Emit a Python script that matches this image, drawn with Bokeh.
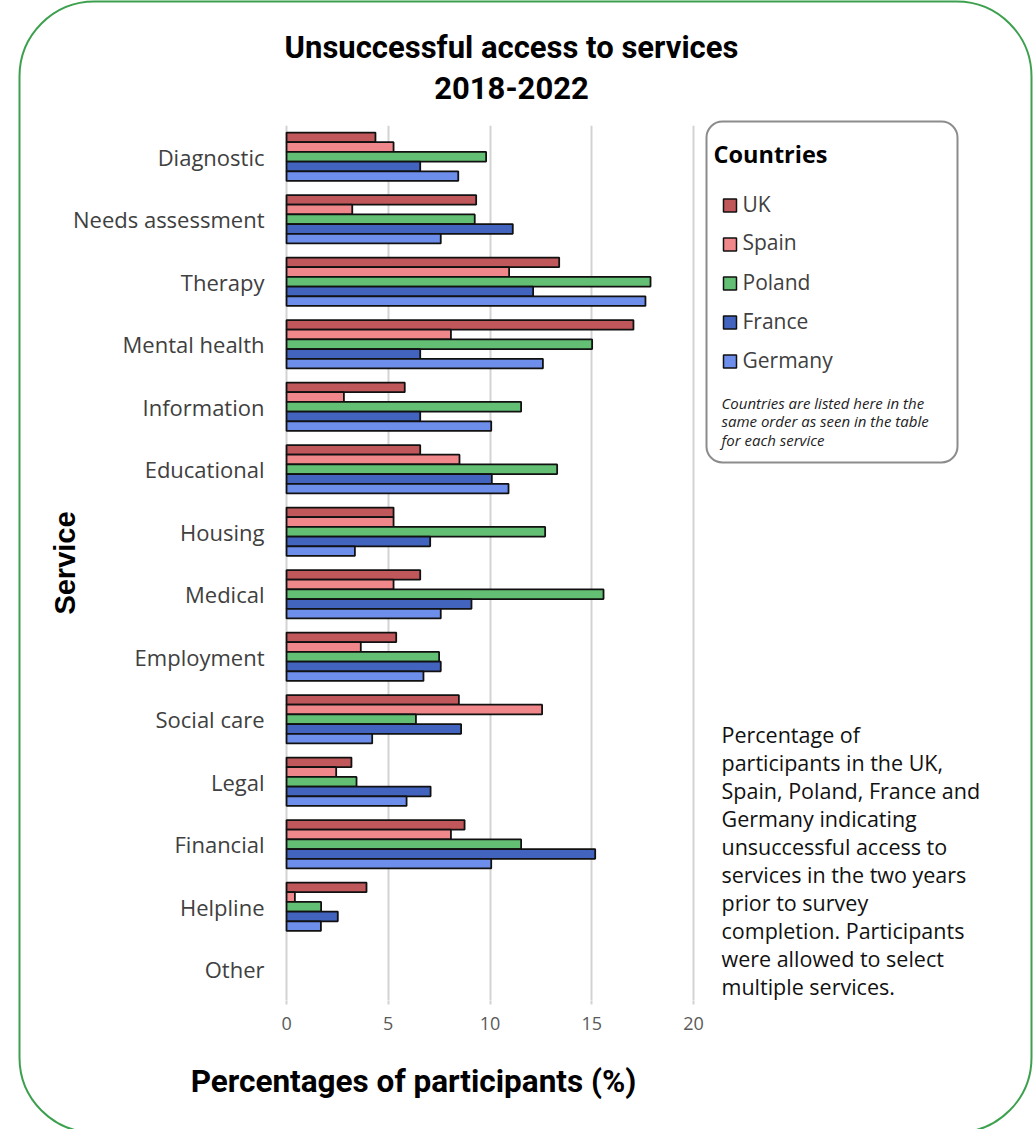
from bokeh.plotting import figure
from bokeh.models import FactorRange, Range1d, FixedTicker, ColumnDataSource
from bokeh.core.properties import value
from bokeh.transform import dodge
from bokeh.embed import file_html
from bokeh.resources import INLINE

services = ["Diagnostic", "Needs assessment", "Therapy", "Mental health", "Information",
            "Educational", "Housing", "Medical", "Employment", "Social care", "Legal",
            "Financial", "Helpline", "Other"]
countries = ["UK", "Spain", "Poland", "France", "Germany"]
uk      = [4.37, 9.32, 13.40, 17.05, 5.81, 6.57, 5.26, 6.57, 5.39, 8.47, 3.19, 8.75, 3.93, 0]
spain   = [5.26, 3.23, 10.94, 8.08, 2.82, 8.50, 5.26, 5.26, 3.65, 12.56, 2.44, 8.08, 0.41, 0]
poland  = [9.81, 9.25, 17.89, 15.02, 11.53, 13.30, 12.71, 15.58, 7.50, 6.36, 3.44, 11.53, 1.70, 0]
france  = [6.57, 11.12, 12.12, 6.57, 6.57, 10.09, 7.06, 9.09, 7.58, 8.58, 7.08, 15.17, 2.52, 0]
germany = [8.44, 7.58, 17.64, 12.60, 10.06, 10.91, 3.36, 7.58, 6.73, 4.21, 5.90, 10.06, 1.69, 0]
x_ticks = [0, 5, 10, 15, 20]

colors = ["#C0575B", "#F0878A", "#62BF73", "#4263BE", "#6E8EEC"]
offsets = [0.31, 0.155, 0.0, -0.155, -0.31]

series = dict(UK=uk, Spain=spain, Poland=poland, France=france, Germany=germany)
data = dict(service=services, **series)
for c, vals in series.items():
    data[c + "_la"] = [1.0 if v > 0 else 0.0 for v in vals]
source = ColumnDataSource(data)

W, H = 1036, 1129
FL, FR, FT, FB = 284, 695, 125, 1000   # frame edges in canvas px
XMIN, XMAX = -0.1, 20.1
NCAT = len(services)

p = figure(width=W, height=H, output_backend="svg", toolbar_location=None,
           y_range=FactorRange(factors=services[::-1], range_padding=0),
           x_range=Range1d(XMIN, XMAX),
           min_border_left=FL, min_border_right=W - FR,
           min_border_top=FT, min_border_bottom=H - FB)
p.outline_line_color = None
p.background_fill_color = "white"
p.border_fill_color = "white"


def dx(cx):
    """canvas px -> data x"""
    return XMIN + (cx - FL) * (XMAX - XMIN) / (FR - FL)


def dy(cy):
    """canvas px -> synthetic categorical y"""
    return (FB - cy) * NCAT / (FB - FT)


renderers = []
for c, col, off in zip(countries, colors, offsets):
    r = p.hbar(y=dodge("service", off, range=p.y_range), right=c, left=0, height=0.155,
               source=source, fill_color=col, line_color="#111111", line_width=1.8,
               line_alpha=c + "_la")
    renderers.append(r)

# grid
p.ygrid.grid_line_color = None
p.xgrid.ticker = FixedTicker(ticks=x_ticks)
p.xgrid.grid_line_color = "#D3D3D3"
p.xgrid.grid_line_width = 2

# x axis
p.xaxis.ticker = FixedTicker(ticks=x_ticks)
p.xaxis.axis_line_color = None
p.xaxis.major_tick_line_color = "#D3D3D3"
p.xaxis.major_tick_line_width = 2
p.xaxis.major_tick_in = 0
p.xaxis.major_tick_out = 4
p.xaxis.minor_tick_line_color = None
p.xaxis.major_label_text_font = "Open Sans"
p.xaxis.major_label_text_font_size = "18px"
p.xaxis.major_label_text_color = "#595959"
p.xaxis.major_label_standoff = 12

# y axis
p.yaxis.axis_line_color = None
p.yaxis.major_tick_line_color = None
p.yaxis.minor_tick_line_color = None
p.yaxis.major_label_text_font = "Open Sans"
p.yaxis.major_label_text_font_size = "22px"
p.yaxis.major_label_text_color = "#404040"
p.yaxis.major_label_standoff = 14
p.yaxis.axis_label = "Service"
p.yaxis.axis_label_text_font = "Liberation Sans"
p.yaxis.axis_label_text_font_style = "bold"
p.yaxis.axis_label_text_font_size = "29px"
p.yaxis.axis_label_text_color = "#000000"
p.yaxis.axis_label_standoff = -11


def lab(text, x, y, size, font="Open Sans", style="normal", align="left", color="#111111"):
    r = p.text(x=[dx(x)], y=[dy(y)], text=[text], text_font=value(font),
               text_font_size=size, text_font_style=style, text_align=align,
               text_baseline="middle", text_color=color)
    r.level = "overlay"
    return r


def rounded_box(x0, y0, x1, y1, color, radius, width=2, fill=None):
    r = p.quad(left=dx(x0), right=dx(x1), top=dy(y0), bottom=dy(y1),
               fill_color=fill, fill_alpha=1 if fill else 0, line_color=color,
               line_width=width, border_radius=radius)
    r.level = "overlay"
    return r


# outer green rounded border and legend box
rounded_box(19, 1, 1031, 1132, "#3DA04E", 75)
rounded_box(706, 121, 957, 462, "#8C8C8C", 16)

# titles
lab("Unsuccessful access to services", 511, 47, "31px", font="Roboto", style="bold",
    align="center", color="#000000")
lab("2018-2022", 511, 87, "31px", font="Roboto", style="bold", align="center", color="#000000")
lab("Percentages of participants (%)", 413, 1081, "31.5px", font="Roboto", style="bold",
    align="center", color="#000000")

# legend (swatches + labels)
lab("Countries", 713, 154, "23.5px", style="bold", color="#000000")
for i, (c, col) in enumerate(zip(countries, colors)):
    yc = 205 + 39 * i
    rounded_box(723, yc - 6.5, 736, yc + 6.5, "#111111", 0, width=1.5, fill=col)
    lab(c, 742, yc - 2, "21px", color="#404040")

note = ["Countries are listed here in the", "same order as seen in the table",
        "for each service"]
for i, t in enumerate(note):
    lab(t, 721, 402 + i * 18.5, "15px", style="italic", color="#222222")

para = ["Percentage of", "participants in the UK,", "Spain, Poland, France and",
        "Germany indicating", "unsuccessful access to", "services in the two years",
        "prior to survey", "completion. Participants", "were allowed to select",
        "multiple services."]
for i, t in enumerate(para):
    lab(t, 721, 734 + i * 28, "21.5px", color="#111111")

open("out.html", "w").write(file_html(p, INLINE))
